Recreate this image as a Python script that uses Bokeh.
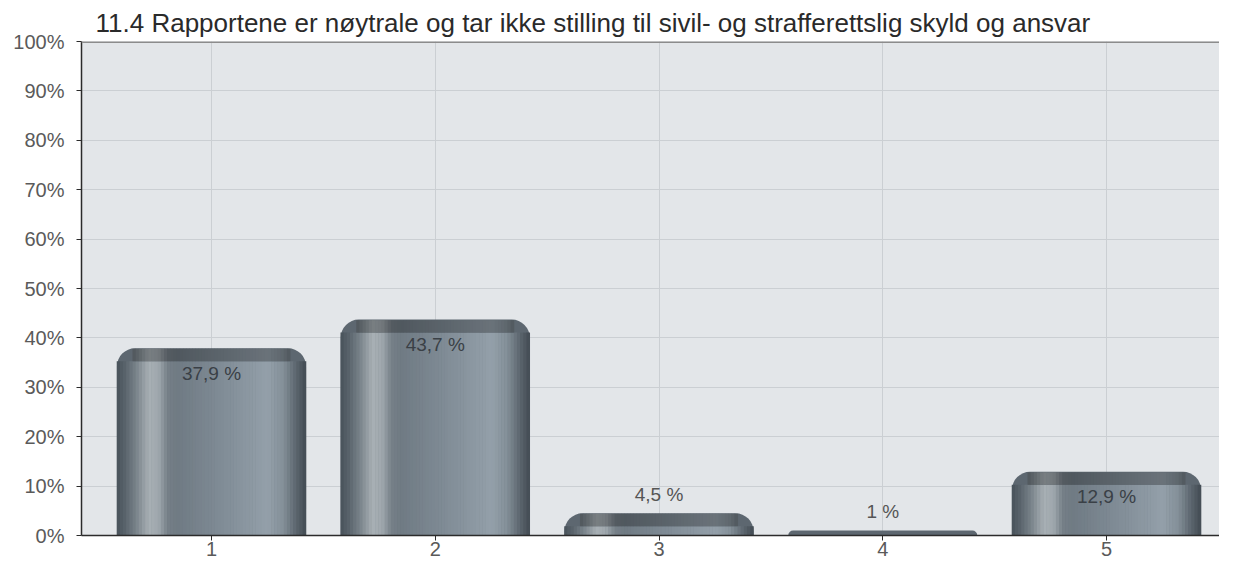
import numpy as np
from bokeh.plotting import figure
from bokeh.models import (ColumnDataSource, Range1d, FixedTicker, PrintfTickFormatter, Span)
from bokeh.core.properties import value
from bokeh.embed import file_html
from bokeh.resources import INLINE

# ---- data ----
title_text = "11.4 Rapportene er nøytrale og tar ikke stilling til sivil- og strafferettslig skyld og ansvar"
categories = [1, 2, 3, 4, 5]
category_labels = ["1", "2", "3", "4", "5"]
percent_values = [37.9, 43.7, 4.5, 1.0, 12.9]
value_labels = ["37,9 %", "43,7 %", "4,5 %", "1 %", "12,9 %"]
y_ticks = [0, 10, 20, 30, 40, 50, 60, 70, 80, 90, 100]

FONT = "Liberation Sans"
BAR_W = 0.845
N_STRIPES = 60
CAP_PX = 13
FRAME_H = 494
PX_PER_UNIT = FRAME_H / 100.0

p = figure(width=1219, height=560, output_backend="svg", toolbar_location=None,
           x_range=Range1d(0.419, 5.505), y_range=Range1d(0, 100),
           min_border_left=81, min_border_right=0, min_border_top=41, min_border_bottom=25)
p.background_fill_color = "#e3e6e9"
p.border_fill_color = "white"
p.outline_line_color = None

p.title.text = title_text
p.title.text_font = FONT
p.title.text_font_size = "26px"
p.title.text_font_style = "normal"
p.title.text_color = "#2a2a2a"
p.title.align = "left"
p.title.offset = 14
p.title.standoff = 7

# grid
p.xgrid.ticker = FixedTicker(ticks=categories)
p.ygrid.ticker = FixedTicker(ticks=y_ticks)
p.xgrid.grid_line_color = "#cbcfd3"
p.ygrid.grid_line_color = "#cbcfd3"

# axes
p.xaxis.ticker = FixedTicker(ticks=categories)
p.xaxis.major_label_overrides = {c: l for c, l in zip(categories, category_labels)}
p.yaxis.ticker = FixedTicker(ticks=y_ticks)
p.yaxis.formatter = PrintfTickFormatter(format="%d%%")
for ax in (p.xaxis[0], p.yaxis[0]):
    ax.axis_line_color = "#2b2b2b"
    ax.axis_line_width = 1.5
    ax.major_tick_line_color = "#2b2b2b"
    ax.major_tick_in = 0
    ax.major_tick_out = 5
    ax.minor_tick_line_color = None
    ax.major_label_text_font = FONT
    ax.major_label_text_font_size = "20px"
    ax.major_label_text_color = "#5a5a5a"
p.yaxis.major_label_standoff = 12
p.xaxis.major_label_standoff = 1

p.add_layout(Span(location=100, dimension="width", line_color="#8c8c8c", line_width=3))

# ---- bar shading profile (style) ----
stops_t = [0.0, 0.04, 0.10, 0.17, 0.22, 0.27, 0.32, 0.55, 0.80, 0.88, 0.95, 1.0]
stops_c = [(72, 82, 90), (88, 98, 106), (120, 130, 137), (168, 176, 181), (160, 168, 174),
           (118, 128, 136), (112, 123, 132), (128, 140, 150), (148, 160, 170),
           (132, 144, 153), (92, 102, 110), (66, 75, 83)]

def shade(t, k=1.0):
    r = np.interp(t, stops_t, [c[0] for c in stops_c]) * k
    g = np.interp(t, stops_t, [c[1] for c in stops_c]) * k
    b = np.interp(t, stops_t, [c[2] for c in stops_c]) * k
    return "#%02x%02x%02x" % (int(r), int(g), int(b))

cap_units = CAP_PX / PX_PER_UNIT

# base bar (rounded, dark cap colour)
base = ColumnDataSource(dict(x=categories, top=percent_values))
p.vbar(x="x", top="top", bottom=0, width=BAR_W, source=base,
       fill_color="#5d6770", line_color=None, border_radius=(18, 18, 0, 0))

# body stripes
sx, stop, scol, cx, cb, ct, ccol = [], [], [], [], [], [], []
sw = BAR_W / N_STRIPES
for c, v in zip(categories, percent_values):
    body_top = max(0.0, v - cap_units)
    for i in range(N_STRIPES):
        t = (i + 0.5) / N_STRIPES
        xx = c - BAR_W / 2 + (i + 0.5) * sw
        if body_top > 0:
            sx.append(xx); stop.append(body_top); scol.append(shade(t))
        if 0.09 < t < 0.91 and v > cap_units * 0.5:
            cx.append(xx); cb.append(body_top); ct.append(v - 0.5 / PX_PER_UNIT)
            ccol.append(shade(t, 0.72))
p.vbar(x=sx, top=stop, bottom=0, width=sw * 1.15, fill_color=scol, line_color=None)
p.vbar(x=cx, top=ct, bottom=cb, width=sw * 1.15, fill_color=ccol, line_color=None)

# value labels
inside = [i for i, v in enumerate(percent_values) if v >= 10]
above = [i for i, v in enumerate(percent_values) if v < 10]
src_in = ColumnDataSource(dict(x=[categories[i] for i in inside],
                               y=[percent_values[i] for i in inside],
                               t=[value_labels[i] for i in inside]))
src_ab = ColumnDataSource(dict(x=[categories[i] for i in above],
                               y=[percent_values[i] for i in above],
                               t=[value_labels[i] for i in above]))
p.text(x="x", y="y", text="t", source=src_in, text_align="center", text_baseline="middle",
       y_offset=25, text_font=value(FONT), text_font_size="19px", text_color="#3a4046")
p.text(x="x", y="y", text="t", source=src_ab, text_align="center", text_baseline="middle",
       y_offset=-19, text_font=value(FONT), text_font_size="19px", text_color="#555555")

open("out.html", "w").write(file_html(p, INLINE))
